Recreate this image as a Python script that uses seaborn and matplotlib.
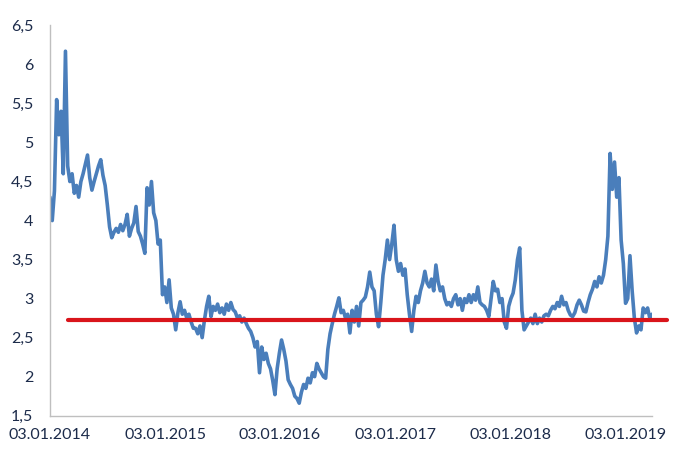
import pandas as pd
import numpy as np
import matplotlib
matplotlib.use('Agg')
import matplotlib.pyplot as plt
import matplotlib.dates as mdates
from matplotlib.ticker import FuncFormatter
import seaborn as sns

# weekly readings, first value on 03.01.2014
start_date = '2014-01-03'
values = [
    4.30, 4.00, 4.38, 5.55, 5.10, 5.40, 4.60, 6.17, 4.70, 4.50,
    4.60, 4.35, 4.45, 4.30, 4.50, 4.60, 4.72, 4.84, 4.55, 4.39,
    4.50, 4.60, 4.70, 4.78, 4.58, 4.45, 4.20, 3.92, 3.78, 3.85,
    3.90, 3.85, 3.95, 3.87, 3.95, 4.08, 3.80, 3.90, 3.97, 4.18,
    3.86, 3.80, 3.70, 3.58, 4.42, 4.20, 4.50, 4.10, 4.00, 3.70,
    3.75, 3.05, 3.15, 2.95, 3.24, 2.88, 2.80, 2.60, 2.82, 2.96,
    2.80, 2.85, 2.75, 2.80, 2.70, 2.62, 2.62, 2.55, 2.65, 2.50,
    2.72, 2.90, 3.03, 2.77, 2.90, 2.85, 2.93, 2.82, 2.88, 2.80,
    2.93, 2.85, 2.95, 2.86, 2.83, 2.75, 2.78, 2.70, 2.75, 2.68,
    2.62, 2.58, 2.50, 2.38, 2.45, 2.05, 2.38, 2.22, 2.30, 2.17,
    2.10, 1.95, 1.77, 2.10, 2.30, 2.47, 2.35, 2.20, 1.96, 1.90,
    1.85, 1.75, 1.72, 1.66, 1.80, 1.90, 1.85, 1.98, 1.92, 2.05,
    2.00, 2.17, 2.10, 2.05, 2.00, 1.98, 2.35, 2.55, 2.68, 2.80,
    2.90, 3.01, 2.82, 2.85, 2.75, 2.80, 2.56, 2.85, 2.70, 2.90,
    2.65, 2.95, 2.98, 3.02, 3.15, 3.34, 3.15, 3.10, 2.80, 2.64,
    2.95, 3.30, 3.50, 3.75, 3.50, 3.70, 3.94, 3.50, 3.35, 3.45,
    3.30, 3.38, 3.05, 2.80, 2.58, 2.85, 3.03, 2.95, 3.10, 3.20,
    3.35, 3.20, 3.15, 3.25, 3.10, 3.43, 3.22, 3.10, 3.15, 3.00,
    2.92, 2.95, 2.90, 3.00, 3.05, 2.92, 3.00, 2.85, 3.00, 2.95,
    3.05, 2.95, 3.05, 2.98, 3.15, 2.95, 2.92, 2.90, 2.85, 2.77,
    3.00, 3.22, 3.10, 3.12, 2.95, 3.00, 2.70, 2.62, 2.90, 3.00,
    3.07, 3.24, 3.50, 3.65, 2.85, 2.60, 2.65, 2.70, 2.75, 2.68,
    2.80, 2.68, 2.75, 2.70, 2.78, 2.80, 2.78, 2.85, 2.90, 2.87,
    2.95, 2.90, 3.03, 2.92, 2.95, 2.85, 2.79, 2.77, 2.82, 2.92,
    2.98, 2.92, 2.84, 2.83, 2.95, 3.05, 3.12, 3.22, 3.15, 3.28,
    3.20, 3.30, 3.50, 3.80, 4.86, 4.40, 4.75, 4.30, 4.55, 3.75,
    3.45, 2.94, 3.00, 3.55, 3.10, 2.75, 2.56, 2.65, 2.60, 2.88,
    2.82, 2.88, 2.75, 2.80,
]

# long-run average level (red line)
avg_level = 2.72
avg_dates = ['2014-03-01', '2019-05-15']

x_end = '2019-03-29'
tick_years = [2014, 2015, 2016, 2017, 2018, 2019]

df = pd.DataFrame({
    'date': pd.date_range(start_date, periods=len(values), freq='7D'),
    'value': values,
})
df_avg = pd.DataFrame({'date': pd.to_datetime(avg_dates), 'value': [avg_level] * 2})

sns.set_style('white')
plt.rcParams['font.family'] = ['Lato', 'DejaVu Sans']

fig = plt.figure(figsize=(6.76, 4.58), dpi=100)
ax = fig.add_axes([0.074, 0.0924, 0.8905, 0.852])

sns.lineplot(data=df, x='date', y='value', ax=ax, color='#4a7ebb', linewidth=2.6)
sns.lineplot(data=df_avg, x='date', y='value', ax=ax, color='#d9151b', linewidth=3,
             clip_on=False, zorder=3)

ax.set_xlim(pd.Timestamp(start_date), pd.Timestamp(x_end))
ax.set_ylim(1.5, 6.5)
ax.set_yticks(np.arange(1.5, 6.51, 0.5))
ax.yaxis.set_major_formatter(FuncFormatter(lambda v, p: f'{v:g}'.replace('.', ',')))
ax.set_xticks([pd.Timestamp(f'{y}-01-03') for y in tick_years])
ax.xaxis.set_major_formatter(mdates.DateFormatter('%d.%m.%Y'))

ax.set_xlabel('')
ax.set_ylabel('')
ax.tick_params(axis='both', length=0, labelsize=11.5, labelcolor='#1c2b4a')
ax.tick_params(axis='y', pad=12)
ax.tick_params(axis='x', pad=9)

for side in ['top', 'right']:
    ax.spines[side].set_visible(False)
for side in ['left', 'bottom']:
    ax.spines[side].set_color('#bfbfbf')
    ax.spines[side].set_linewidth(1)

fig.savefig('out.png', dpi=100)
